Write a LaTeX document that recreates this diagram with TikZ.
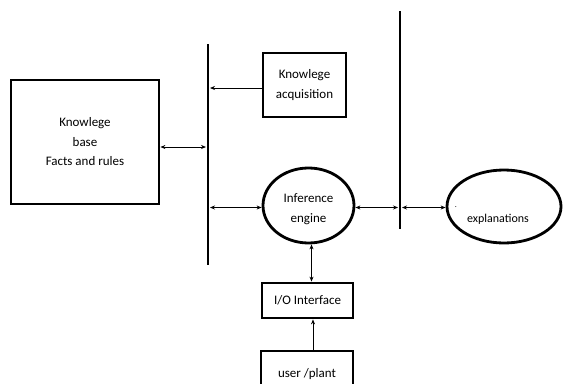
\documentclass[tikz,border=0pt]{standalone}
\usepackage{fontspec}
\setmainfont{Carlito}
\usetikzlibrary{shapes.geometric,arrows.meta}

\tikzset{
  block/.style={draw, line width=2.8pt, rectangle, inner sep=0pt, align=center,
    font=\fontsize{13}{19.5}\selectfont},
  oval/.style={draw, line width=2.8pt, ellipse, inner sep=0pt, align=center,
    font=\fontsize{13}{19.5}\selectfont},
  bar/.style={line width=2.8pt},
  arr/.style={line width=0.8pt, -{Stealth[length=5pt,width=4pt]}},
  darr/.style={line width=0.8pt, {Stealth[length=5pt,width=4pt]}-{Stealth[length=5pt,width=4pt]}}
}

\begin{document}
\begin{tikzpicture}[x=1pt,y=-1pt]
        \useasboundingbox (0,0) rectangle (565,383);
        \clip (0,0) rectangle (565,383);
        % boxes and ovals
        \node [block, minimum width=148pt, minimum height=124pt] (kb) at (85,142) {Knowlege\\base\\Facts and rules};
        \node [block, minimum width=83pt, minimum height=64pt] (acq) at (304.5,85) {Knowlege\\acquisition};
        \node [oval, minimum width=91pt, minimum height=75pt] (inf) at (308.5,205.5) {};
        \node [align=center, font=\fontsize{13}{19.5}\selectfont] (inftext) at (308.5,209) {Inference\\engine};
        \node [oval, minimum width=114pt, minimum height=73pt] (expl) at (504,206.5) {};
        \node [font=\fontsize{12}{14}\selectfont] (expltext) at (498,219) {explanations};
        \node [font=\fontsize{8}{9}\selectfont, inner sep=0pt] (dot) at (456,207) {.};
        \node [block, minimum width=92pt, minimum height=50pt] (user) at (307,376) {};
        \node [font=\fontsize{13}{15}\selectfont] (usertext) at (307,374) {user /plant};
        \node [block, minimum width=91pt, minimum height=35pt] (io) at (307.5,300.5) {I/O Interface};
        % bars
        \coordinate (barLtop) at (208,44);
        \coordinate (barLbot) at (208,265);
        \coordinate (barRtop) at (400,11);
        \coordinate (barRbot) at (400,229);
        \draw [bar] (barLtop) -- (barLbot);
        \draw [bar] (barRtop) -- (barRbot);
        % connectors
        \draw [arr, shorten >=2pt] ([yshift=-3pt]acq.west) -- ([yshift=-3pt]acq.west -| barLtop);
        \draw [darr, shorten >=2pt] ([yshift=-5pt]kb.east) -- ([yshift=-5pt]kb.east -| barLtop);
        \draw [darr, shorten <=2pt] ([yshift=-2pt]inf.west -| barLtop) -- ([yshift=-2pt]inf.west);
        \draw [darr, shorten >=2pt] ([yshift=-2pt]inf.east) -- ([yshift=-2pt]inf.east -| barRtop);
        \draw [darr, shorten <=2pt] ([yshift=-1pt]expl.west -| barRtop) -- ([yshift=-1pt]expl.west);
        \draw [darr] ([xshift=3pt]inf.south) -- ([xshift=3pt]inf.south |- io.north);
        \draw [arr] ([xshift=6pt]user.north) -- ([xshift=6pt]user.north |- io.south);
\end{tikzpicture}
\end{document}
